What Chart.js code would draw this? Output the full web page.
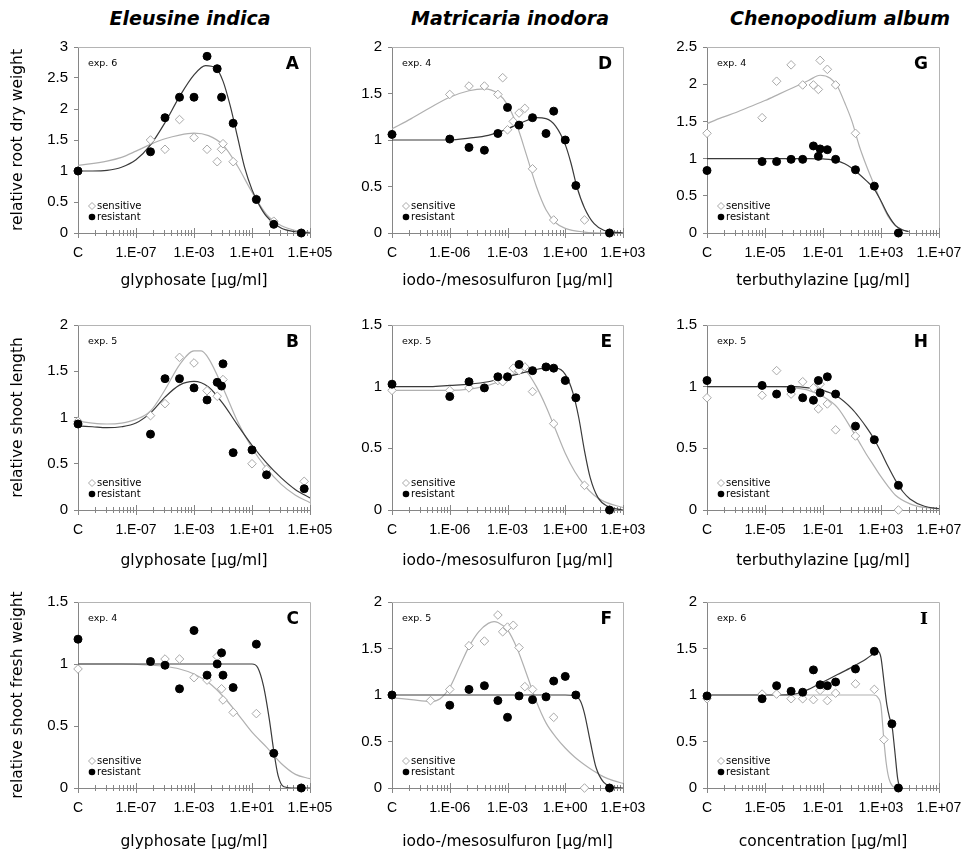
<!DOCTYPE html>
<html>
<head>
<meta charset="utf-8">
<script src="https://cdn.jsdelivr.net/npm/chart.js@4.4.1/dist/chart.umd.min.js"></script>
<style>
  body { margin: 0; background: #fff; width: 973px; height: 859px; position: relative; overflow: hidden; }
  .box { position: absolute; }
  .title { position: absolute; top: 7px; width: 260px; margin-left: -130px; text-align: center;
           font: italic bold 19px "DejaVu Sans"; line-height: 22px; color: #000; }
</style>
</head>
<body>
<div class="title" style="left:190px">Eleusine indica</div>
<div class="title" style="left:510px">Matricaria inodora</div>
<div class="title" style="left:840px">Chenopodium album</div>
<script>
// doses are log10 of the concentration in µg/ml, 'C' = untreated control
// ---- Eleusine indica / glyphosate ----
const dosesA = ['C', -6, -5, -4, -3, -2.1, -1.4, -1.1, -1, -0.3, 1.3, 2.5, 4.4];
const sensA = [1.0, 1.5, 1.35, 1.83, 1.54, 1.35, 1.15, 1.35, 1.44, 1.15, 0.55, 0.19, 0];
const resA = [1.0, 1.31, 1.86, 2.19, 2.19, 2.85, 2.65, 2.19, null, 1.77, 0.54, 0.14, 0];
const fitSensA = [[-11,1.09],[-9,1.16],[-8,1.22],[-7,1.32],[-6,1.43],[-5,1.52],[-4,1.58],[-3,1.61],[-2,1.57],[-1,1.42],[0,1.08],[1,0.66],[2,0.3],[3,0.12],[4,0.04],[5,0.01]];
const fitResA = [[-11,1.0],[-10,1.0],[-9,1.01],[-8,1.06],[-7,1.18],[-6,1.42],[-5,1.78],[-4,2.2],[-3,2.55],[-2.2,2.7],[-1.5,2.66],[-1,2.45],[-0.5,2.05],[0,1.55],[0.5,1.05],[1,0.7],[1.5,0.45],[2,0.27],[3,0.08],[4,0.02],[5,0.0]];

const dosesB = ['C', -6, -5, -4, -3, -2.1, -1.4, -1.1, -1, -0.3, 1, 2, 4.6];
const sensB = [0.96, 1.02, 1.15, 1.65, 1.59, 1.29, 1.23, null, 1.41, null, 0.5, 0.44, 0.31];
const resB = [0.93, 0.82, 1.42, 1.42, 1.32, 1.19, 1.38, 1.34, 1.58, 0.62, 0.65, 0.38, 0.23];
const fitSensB = [[-11,0.96],[-10,0.94],[-9,0.93],[-8,0.94],[-7,0.98],[-6,1.07],[-5,1.3],[-4,1.57],[-3,1.72],[-2.5,1.72],[-2,1.64],[-1,1.32],[0,0.96],[1,0.67],[2,0.45],[3,0.28],[4,0.16],[5,0.08]];
const fitResB = [[-11,0.91],[-10,0.9],[-9,0.89],[-8,0.9],[-7,0.94],[-6,1.05],[-5,1.22],[-4,1.35],[-3,1.39],[-2,1.33],[-1,1.15],[0,0.92],[1,0.7],[2,0.51],[3,0.35],[4,0.22],[5,0.13]];

const dosesC = ['C', -6, -5, -4, -3, -2.1, -1.4, -1.1, -1, -0.3, 1.3, 2.5, 4.4];
const sensC = [0.96, null, 1.04, 1.04, 0.89, 0.87, 1.06, 0.80, 0.71, 0.61, 0.60, 0.28, 0];
const resC = [1.20, 1.02, 0.99, 0.80, 1.27, 0.91, 1.00, 1.09, 0.91, 0.81, 1.16, 0.28, 0];
const fitSensC = [[-11,1.0],[-8,1.0],[-6,0.99],[-5,0.98],[-4,0.96],[-3,0.92],[-2,0.85],[-1,0.74],[0,0.6],[1,0.45],[2,0.33],[3,0.2],[4,0.11],[5,0.075]];
const fitResC = [[-11,1.0],[0,1.0],[1,1.0],[1.4,0.97],[1.8,0.82],[2.2,0.55],[2.5,0.3],[2.8,0.1],[3.2,0.01],[4,0],[5,0]];

// ---- Matricaria inodora / iodo-/mesosulfuron ----
const dosesD = ['C', -6, -5, -4.2, -3.5, -3.25, -3, -2.7, -2.4, -2.1, -1.7, -1, -0.6, 0, 0.55, 1, 2.3];
const sensD = [1.06, 1.49, 1.58, 1.58, 1.49, 1.67, 1.11, 1.20, 1.29, 1.34, 0.69, null, 0.14, null, null, 0.14, 0];
const resD = [1.06, 1.01, 0.92, 0.89, 1.07, null, 1.35, null, 1.16, null, 1.24, 1.07, 1.31, 1.0, 0.51, null, 0];
const fitSensD = [[-9,1.12],[-8,1.23],[-7,1.35],[-6,1.46],[-5,1.53],[-4.2,1.55],[-3.5,1.5],[-3,1.38],[-2.5,1.15],[-2,0.83],[-1.5,0.5],[-1,0.25],[-0.5,0.11],[0,0.05],[1,0.01],[2,0],[3,0]];
const fitResD = [[-9,1.0],[-7,1.0],[-6,1.0],[-5,1.02],[-4,1.05],[-3,1.12],[-2,1.21],[-1.5,1.24],[-1,1.23],[-0.5,1.15],[0,0.95],[0.3,0.75],[0.6,0.5],[1,0.27],[1.5,0.1],[2,0.03],[3,0.0]];

const dosesE = ['C', -6, -5, -4.2, -3.5, -3.25, -3, -2.7, -2.4, -2.1, -1.7, -1, -0.6, 0, 0.55, 1, 2.3];
const sensE = [0.97, 0.97, 0.99, null, 1.05, 1.04, null, 1.15, 1.13, 1.16, 0.96, null, 0.70, null, null, 0.20, 0];
const resE = [1.02, 0.92, 1.04, 0.99, 1.08, null, 1.08, null, 1.18, null, 1.13, 1.16, 1.15, 1.05, 0.91, null, 0];
const fitSensE = [[-9,0.97],[-7,0.97],[-6,0.97],[-5,0.98],[-4,1.01],[-3,1.07],[-2.5,1.12],[-2.2,1.14],[-2,1.12],[-1.5,1.0],[-1,0.84],[-0.5,0.65],[0,0.46],[0.5,0.31],[1,0.2],[1.5,0.12],[2,0.07],[3,0.02]];
const fitResE = [[-9,1.0],[-7,1.0],[-6,1.01],[-5,1.02],[-4,1.04],[-3,1.08],[-2,1.12],[-1,1.15],[-0.5,1.15],[0,1.1],[0.4,0.95],[0.7,0.75],[1,0.48],[1.3,0.26],[1.7,0.1],[2.2,0.03],[3,0.0]];

const dosesF = ['C', -7, -6, -5, -4.2, -3.5, -3.25, -3, -2.7, -2.4, -2.1, -1.7, -1, -0.6, 0, 0.55, 1, 2.3];
const sensF = [1.0, 0.94, 1.06, 1.53, 1.58, 1.86, 1.68, 1.73, 1.75, 1.51, 1.09, 1.06, null, 0.76, null, null, 0, 0];
const resF = [1.0, null, 0.89, 1.06, 1.10, 0.94, null, 0.76, null, 0.99, null, 0.95, 0.98, 1.15, 1.20, 1.0, null, 0];
const fitSensF = [[-9,0.97],[-8,0.95],[-7,0.93],[-6.5,0.96],[-6,1.08],[-5.5,1.3],[-5,1.52],[-4.5,1.68],[-4,1.77],[-3.7,1.79],[-3.5,1.78],[-3,1.7],[-2.5,1.5],[-2,1.22],[-1.5,0.93],[-1,0.7],[-0.5,0.55],[0,0.43],[0.5,0.33],[1,0.25],[1.5,0.18],[2,0.12],[2.5,0.08],[3,0.05]];
const fitResF = [[-9,1.0],[0,1.0],[0.5,0.99],[0.8,0.93],[1,0.8],[1.3,0.5],[1.6,0.22],[2,0.06],[2.5,0.01],[3,0]];

// ---- Chenopodium album / terbuthylazine ----
const dosesG = ['C', -5.2, -4.2, -3.2, -2.4, -1.66, -1.32, -1.2, -0.7, -0.13, 1.24, 2.54, 3.2, 3.75, 4.2];
const sensG = [1.34, 1.55, 2.04, 2.26, 1.99, 1.99, 1.93, 2.32, 2.2, 1.99, 1.34, null, null, null, 0];
const resG = [0.84, 0.96, 0.96, 0.99, 0.99, 1.17, 1.03, 1.13, 1.12, 0.99, 0.85, 0.63, null, null, 0];
const fitSensG = [[-9,1.47],[-8,1.55],[-7,1.62],[-6,1.7],[-5,1.78],[-4,1.87],[-3,1.96],[-2,2.05],[-1.2,2.12],[-0.5,2.08],[0,1.97],[0.5,1.75],[1,1.5],[1.5,1.17],[2,0.9],[2.5,0.66],[3,0.42],[3.5,0.22],[4,0.1],[4.5,0.04],[4.9,0.02]];
const fitResG = [[-9,1.0],[-2,1.0],[-1,0.995],[0,0.97],[0.5,0.93],[1,0.87],[1.5,0.79],[2,0.7],[2.5,0.6],[3,0.43],[3.5,0.24],[4,0.1],[4.5,0.04],[4.9,0.02]];

const dosesH = dosesG;
const sensH = [0.91, 0.93, 1.13, 0.94, 1.04, 0.99, 0.82, 1.02, 0.86, 0.65, 0.60, null, null, null, 0];
const resH = [1.05, 1.01, 0.94, 0.98, 0.91, 0.89, 1.05, 0.95, 1.08, 0.94, 0.68, 0.57, null, null, 0.20];
const fitSensH = [[-9,1.0],[-4,1.0],[-3,0.99],[-2,0.97],[-1,0.92],[0,0.83],[1,0.65],[1.5,0.55],[2,0.45],[2.5,0.36],[3,0.27],[3.5,0.19],[4,0.12],[5,0.05],[6,0.02],[7,0.01]];
const fitResH = [[-9,1.0],[-3,1.0],[-2,0.99],[-1,0.97],[0,0.92],[1,0.82],[1.5,0.75],[2,0.67],[2.5,0.58],[3,0.47],[3.5,0.35],[4,0.24],[4.5,0.15],[5,0.09],[6,0.03],[7,0.01]];

const dosesI = dosesG;
const sensI = [0.96, 1.01, 1.01, 0.96, 0.96, 0.95, null, 1.05, 0.94, 1.02, 1.12, 1.06, 0.52, null, 0];
const resI = [0.99, 0.96, 1.10, 1.04, 1.03, 1.27, null, 1.11, 1.10, 1.14, 1.28, 1.47, null, 0.69, 0];
const fitSensI = [[-9,1.0],[2.5,1.0],[2.8,0.97],[3.0,0.88],[3.18,0.55],[3.35,0.28],[3.55,0.1],[3.8,0.02],[4.0,0]];
const fitResI = [[-9,1.0],[-4,1.0],[-3,1.01],[-2.5,1.03],[-2,1.06],[-1.5,1.1],[-1,1.14],[0,1.22],[1,1.3],[2,1.39],[2.54,1.45],[2.8,1.47],[3.0,1.4],[3.2,1.15],[3.4,0.9],[3.6,0.75],[3.75,0.68],[3.95,0.4],[4.15,0.1],[4.3,0.0]];

// x axis: first entry is the 'C' position, the rest are the labelled decades
const colMajors = [[-11, -7, -3, 1, 5], [-9, -6, -3, 0, 3], [-9, -5, -1, 3, 7]];
const xTitles = [
  ['glyphosate [µg/ml]', 'glyphosate [µg/ml]', 'glyphosate [µg/ml]'],
  ['iodo-/mesosulfuron [µg/ml]', 'iodo-/mesosulfuron [µg/ml]', 'iodo-/mesosulfuron [µg/ml]'],
  ['terbuthylazine [µg/ml]', 'terbuthylazine [µg/ml]', 'concentration [µg/ml]'],
];
const yTitles = ['relative root dry weight', 'relative shoot length', 'relative shoot fresh weight'];

const panels = [
  {col: 0, row: 0, letter: 'A', exp: 'exp. 6', ymax: 3,   doses: dosesA, sens: sensA, res: resA, fitSens: fitSensA, fitRes: fitResA},
  {col: 0, row: 1, letter: 'B', exp: 'exp. 5', ymax: 2,   doses: dosesB, sens: sensB, res: resB, fitSens: fitSensB, fitRes: fitResB},
  {col: 0, row: 2, letter: 'C', exp: 'exp. 4', ymax: 1.5, doses: dosesC, sens: sensC, res: resC, fitSens: fitSensC, fitRes: fitResC},
  {col: 1, row: 0, letter: 'D', exp: 'exp. 4', ymax: 2,   doses: dosesD, sens: sensD, res: resD, fitSens: fitSensD, fitRes: fitResD},
  {col: 1, row: 1, letter: 'E', exp: 'exp. 5', ymax: 1.5, doses: dosesE, sens: sensE, res: resE, fitSens: fitSensE, fitRes: fitResE},
  {col: 1, row: 2, letter: 'F', exp: 'exp. 5', ymax: 2,   doses: dosesF, sens: sensF, res: resF, fitSens: fitSensF, fitRes: fitResF},
  {col: 2, row: 0, letter: 'G', exp: 'exp. 4', ymax: 2.5, doses: dosesG, sens: sensG, res: resG, fitSens: fitSensG, fitRes: fitResG},
  {col: 2, row: 1, letter: 'H', exp: 'exp. 5', ymax: 1.5, doses: dosesH, sens: sensH, res: resH, fitSens: fitSensH, fitRes: fitResH},
  {col: 2, row: 2, letter: 'I', exp: 'exp. 6', ymax: 2,   doses: dosesI, sens: sensI, res: resI, fitSens: fitSensI, fitRes: fitResI},
];

// layout (pixels)
const plotLeft = [78, 392, 707], plotRight = [310, 623, 939];
const plotTop = [47, 325, 602], plotBottom = [233, 510, 788];
const canvasLeft = [0, 318, 632];
const xAxisH = [57, 60, 63];
const PAD_TOP = 15, PAD_RIGHT = 30;

const AXIS_GREY = '#868686';
const SENS_GREY = '#a8a8a8';

let fmtDecade = (v) => '1.E' + (v < 0 ? '-' : '+') + String(Math.abs(v)).padStart(2, '0');

// frame, crossing tick marks, "exp." note, panel letter and the small legend
const panelDecor = {
  id: 'panelDecor',
  beforeDatasetsDraw(chart, args, o) {
    const {ctx, chartArea: a} = chart;
    const x = chart.scales.x;
    ctx.save();
    ctx.lineWidth = 1;
    ctx.strokeStyle = '#b4b4b4';
    ctx.beginPath();
    ctx.moveTo(a.left, Math.round(a.top) + 0.5);
    ctx.lineTo(Math.round(a.right) + 0.5, Math.round(a.top) + 0.5);
    ctx.lineTo(Math.round(a.right) + 0.5, a.bottom);
    ctx.stroke();

    ctx.strokeStyle = AXIS_GREY;
    const y0 = Math.round(a.bottom);
    const mark = (v, len) => {
      const px = Math.round(x.getPixelForValue(v)) + 0.5;
      ctx.beginPath();
      ctx.moveTo(px, y0 - len);
      ctx.lineTo(px, y0 + len);
      ctx.stroke();
    };
    o.majors.forEach((m, i) => {
      mark(m, 5);
      if (i < o.majors.length - 1) {
        const step = o.majors[i + 1] - m;
        for (let k = 2; k <= 9; k++) mark(m + step * Math.log10(k), 3);
      }
    });
    ctx.restore();
  },
  afterDatasetsDraw(chart, args, o) {
    const {ctx, chartArea: a} = chart;
    ctx.save();
    ctx.fillStyle = '#000';
    ctx.textBaseline = 'middle';
    ctx.textAlign = 'left';
    ctx.font = '9.5px "DejaVu Sans"';
    ctx.fillText(o.exp, a.left + 10, a.top + 17);

    ctx.textAlign = 'right';
    ctx.font = o.letter === 'I' ? 'bold 17px "DejaVu Serif"' : 'bold 17px "DejaVu Sans"';
    ctx.fillText(o.letter, a.right - 11, a.top + 18);

    const lx = a.left + 14, ly1 = a.bottom - 27, ly2 = a.bottom - 16;
    ctx.strokeStyle = SENS_GREY;
    ctx.lineWidth = 1;
    ctx.fillStyle = '#fff';
    ctx.beginPath();
    ctx.moveTo(lx, ly1 - 3.5); ctx.lineTo(lx + 3.5, ly1); ctx.lineTo(lx, ly1 + 3.5); ctx.lineTo(lx - 3.5, ly1);
    ctx.closePath();
    ctx.fill(); ctx.stroke();
    ctx.fillStyle = '#000';
    ctx.beginPath();
    ctx.arc(lx, ly2, 3.3, 0, Math.PI * 2);
    ctx.fill();
    ctx.textAlign = 'left';
    ctx.font = '10px "DejaVu Sans"';
    ctx.fillText('sensitive', lx + 5, ly1);
    ctx.fillText('resistant', lx + 5, ly2);
    ctx.restore();
  }
};

panels.forEach((p) => {
  const c = p.col, r = p.row;
  const left = canvasLeft[c], top = plotTop[r] - PAD_TOP;
  const w = plotRight[c] + PAD_RIGHT - left;
  const h = plotBottom[r] + xAxisH[r] - top;
  const box = document.createElement('div');
  box.className = 'box';
  box.style.cssText = `left:${left}px;top:${top}px;width:${w}px;height:${h}px`;
  const cv = document.createElement('canvas');
  box.appendChild(cv);
  document.body.appendChild(box);

  const majors = colMajors[c];
  const yw = plotLeft[c] - left;
  const xh = xAxisH[r];
  const toX = (d) => d === 'C' ? majors[0] : d;
  const pts = (vals) => p.doses.map((d, i) => ({x: toX(d), y: vals[i]})).filter((o) => o.y !== null);
  const fit = (arr) => arr.map(([x, y]) => ({x, y}));

  new Chart(cv, {
    type: 'scatter',
    data: {
      datasets: [
        {label: 'resistant', data: pts(p.res), pointStyle: 'circle', pointRadius: 4, backgroundColor: '#000',
         borderColor: '#000', borderWidth: 1, order: 0, clip: false},
        {label: 'sensitive', data: pts(p.sens), pointStyle: 'rectRot', pointRadius: 4.3, backgroundColor: '#fff',
         borderColor: SENS_GREY, borderWidth: 1, order: 1, clip: false},
        {label: 'fit resistant', data: fit(p.fitRes), showLine: true, pointRadius: 0, borderColor: '#3a3a3a',
         borderWidth: 1.2, cubicInterpolationMode: 'monotone', order: 2},
        {label: 'fit sensitive', data: fit(p.fitSens), showLine: true, pointRadius: 0, borderColor: '#b0b0b0',
         borderWidth: 1.2, cubicInterpolationMode: 'monotone', order: 3},
      ]
    },
    options: {
      responsive: true,
      maintainAspectRatio: false,
      animation: false,
      events: [],
      devicePixelRatio: 1,
      layout: {padding: {left: 0, right: PAD_RIGHT, top: PAD_TOP, bottom: 0}},
      plugins: {
        legend: {display: false},
        tooltip: {enabled: false},
        panelDecor: {majors: majors, exp: p.exp, letter: p.letter},
      },
      scales: {
        x: {
          type: 'linear',
          min: majors[0],
          max: majors[majors.length - 1],
          afterBuildTicks: (s) => { s.ticks = majors.map((v) => ({value: v})); },
          afterFit: (s) => { s.height = xh; },
          ticks: {
            autoSkip: false, maxRotation: 0, padding: 4, color: '#000',
            font: {family: 'Liberation Sans', size: 14},
            callback: (v, i) => i === 0 ? 'C' : fmtDecade(v),
          },
          grid: {display: false},
          border: {display: true, color: AXIS_GREY},
          title: {display: true, text: xTitles[c][r], color: '#000', padding: 0,
                  font: {family: 'DejaVu Sans', size: 15.5}},
        },
        y: {
          min: 0,
          max: p.ymax,
          afterFit: (s) => { s.width = yw; },
          ticks: {
            stepSize: 0.5, padding: 6, color: '#000',
            font: {family: 'Liberation Sans', size: 15},
            callback: (v) => String(v),
          },
          grid: {drawOnChartArea: false, drawTicks: true, tickLength: 4, color: AXIS_GREY},
          border: {display: true, color: AXIS_GREY},
          title: {display: c === 0, text: yTitles[r], color: '#000', padding: {top: 9, bottom: 0},
                  font: {family: 'DejaVu Sans', size: 15.5}},
        }
      }
    },
    plugins: [panelDecor]
  });
});
</script>
</body>
</html>
